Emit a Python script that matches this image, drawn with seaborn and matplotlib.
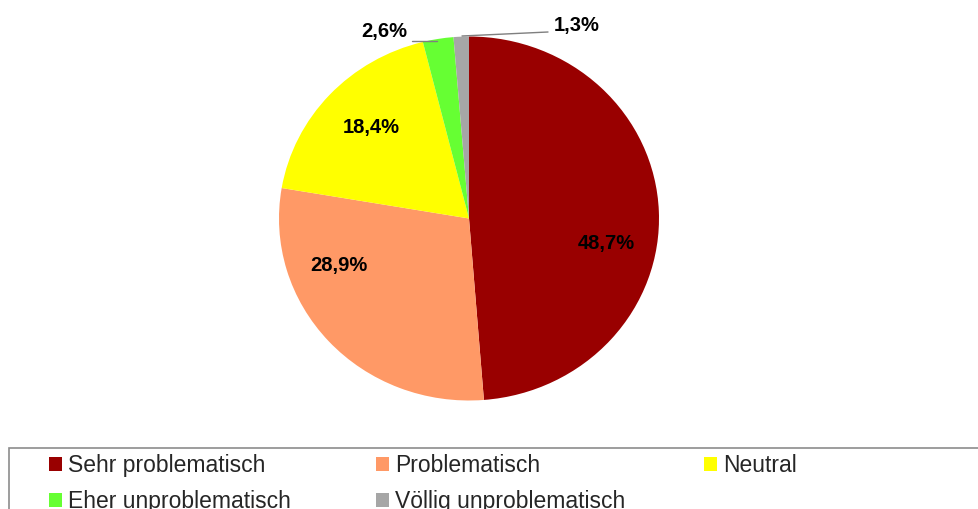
import matplotlib
matplotlib.use("Agg")
import matplotlib.pyplot as plt
import seaborn as sns
from matplotlib.patches import Patch, Rectangle

# Daten
kategorien = ["Sehr problematisch", "Problematisch", "Neutral",
              "Eher unproblematisch", "Völlig unproblematisch"]
anteile = [48.7, 28.9, 18.4, 2.6, 1.3]
farben = ["#990000", "#FF9966", "#FFFF00", "#66FF33", "#A6A6A6"]

sns.set_theme(style="white")
plt.rcParams["font.family"] = ["Liberation Sans", "DejaVu Sans"]

W, H = 979, 509
fig = plt.figure(figsize=(W / 100, H / 100), dpi=100)
ax = fig.add_axes([0, 0, 1, 1])

# Pixelkoordinaten, leicht gestauchte Höhe wie im Original
k = 190 / 182


def py(y):
    return (H - y) * k


ax.pie(anteile, colors=farben, startangle=90, counterclock=False,
       center=(469, py(218.5)), radius=190, frame=True,
       wedgeprops=dict(linewidth=0))
ax.set_xlim(0, W)
ax.set_ylim(0, H * k)
ax.set_aspect("auto")
ax.axis("off")

# Beschriftungen
label_pos = [(606, 244), (339, 265), (371, 128), (384, 32), (577, 26)]
for v, (x, y) in zip(anteile, label_pos):
    ax.text(x, py(y), f"{v:.1f}%".replace(".", ","), ha="center", va="center",
            fontsize=14.5, fontweight="bold", color="black")

# Führungslinien für kleine Segmente
ax.plot([412, 437], [py(40.5), py(40.5)], color="#7f7f7f", lw=1)
ax.plot([462, 548], [py(36), py(32)], color="#7f7f7f", lw=1)

# Legendenrahmen
fig.patches.append(Rectangle((9 / W, -0.1), 1.1, (H - 447.5) / H + 0.1,
                             transform=fig.transFigure, fill=False,
                             edgecolor="#8c8c8c", lw=1.2))

# Legende zeilenweise in drei Spalten
spalten = [[0, 3], [1, 4], [2]]
spalten_x = [49, 376, 704]
for idx, x0 in zip(spalten, spalten_x):
    handles = [Patch(facecolor=farben[i], edgecolor="none") for i in idx]
    leg = fig.legend(handles, [kategorien[i] for i in idx], loc="upper left",
                     bbox_to_anchor=(x0 / W, (H - 454) / H), frameon=False,
                     fontsize=16.5, handlelength=0.55, handleheight=0.55,
                     handletextpad=0.3, labelspacing=0.58,
                     borderaxespad=0, borderpad=0)

fig.savefig("out.png", dpi=100)
